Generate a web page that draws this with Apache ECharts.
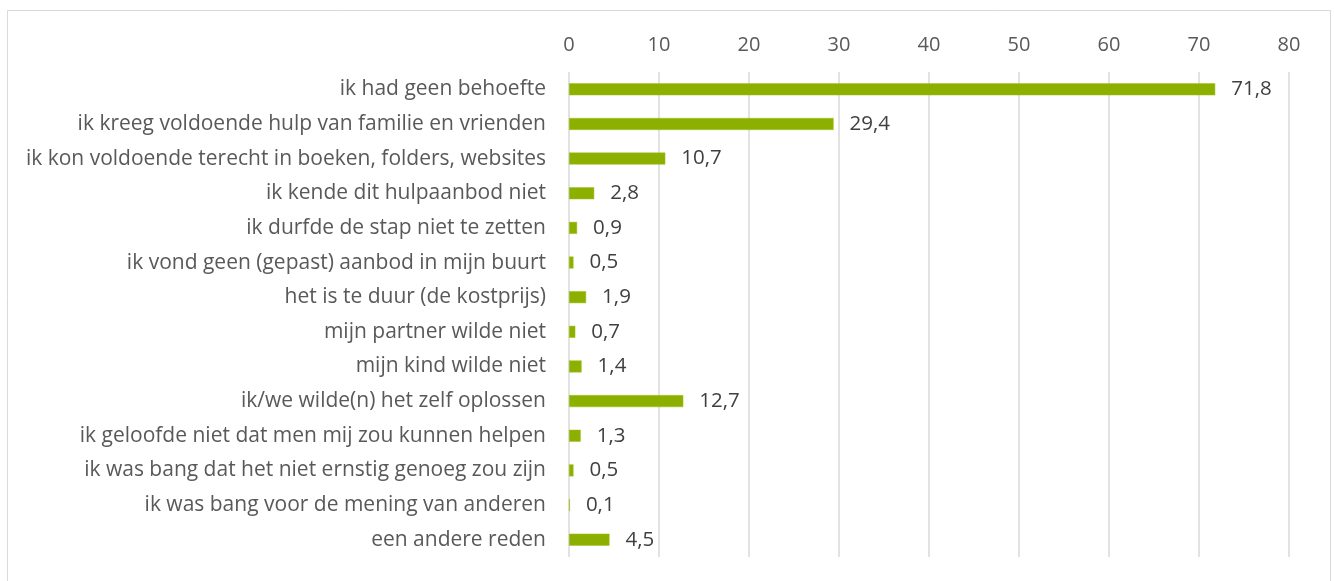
<!DOCTYPE html>
<html><head><meta charset="utf-8">
<script src="https://cdn.jsdelivr.net/npm/echarts@6/dist/echarts.min.js"></script>
<style>html,body{margin:0;padding:0;background:#fff}#c{width:1334px;height:581px}</style>
</head><body><div id="c"></div>
<script>
const categories = [
  "ik had geen behoefte",
  "ik kreeg voldoende hulp van familie en vrienden",
  "ik kon voldoende terecht in boeken, folders, websites",
  "ik kende dit hulpaanbod niet",
  "ik durfde de stap niet te zetten",
  "ik vond geen (gepast) aanbod in mijn buurt",
  "het is te duur (de kostprijs)",
  "mijn partner wilde niet",
  "mijn kind wilde niet",
  "ik/we wilde(n) het zelf oplossen",
  "ik geloofde niet dat men mij zou kunnen helpen",
  "ik was bang dat het niet ernstig genoeg zou zijn",
  "ik was bang voor de mening van anderen",
  "een andere reden"
];
const values = [71.8, 29.4, 10.7, 2.8, 0.9, 0.5, 1.9, 0.7, 1.4, 12.7, 1.3, 0.5, 0.1, 4.5];
const axisMin = 0, axisMax = 80, axisInterval = 10;

const chart = echarts.init(document.getElementById('c'), null, {renderer: 'canvas'});
const font = '"Open Sans", "Liberation Sans", sans-serif';
chart.setOption({
  animation: false,
  graphic: [{type: 'rect', shape: {x: 7.5, y: 10.5, width: 1323, height: 600},
    style: {fill: 'none', stroke: '#d9d9d9', lineWidth: 1}, silent: true}],
  grid: {left: 569, right: 45, top: 72, bottom: 24, containLabel: false},
  xAxis: {
    type: 'value', position: 'top', min: axisMin, max: axisMax, interval: axisInterval,
    axisLine: {show: false}, axisTick: {show: false},
    axisLabel: {color: '#595959', fontSize: 20, fontFamily: font, margin: 17},
    splitLine: {lineStyle: {color: '#d9d9d9', width: 1.5}}
  },
  yAxis: {
    type: 'category', data: categories, inverse: true,
    axisLine: {show: false}, axisTick: {show: false},
    axisLabel: {color: '#595959', fontSize: 21, fontFamily: font, margin: 23}
  },
  series: [{
    type: 'bar', data: values, barWidth: 12,
    itemStyle: {color: '#8db000', borderColor: '#9cc21a', borderWidth: 0.5},
    label: {show: true, position: 'right', distance: 16, color: '#404040', fontSize: 20.5, fontFamily: font,
      formatter: p => String(p.value).replace('.', ',')}
  }]
});
</script></body></html>
